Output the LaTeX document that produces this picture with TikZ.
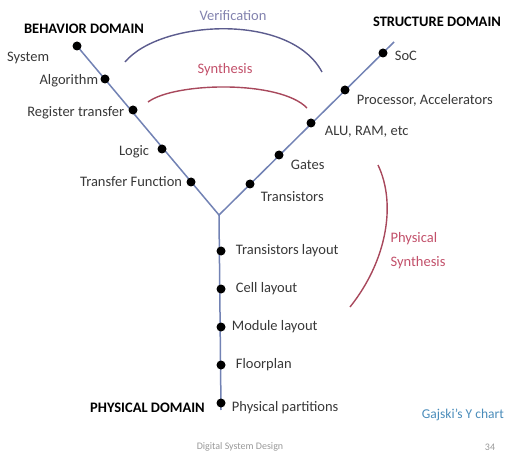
\documentclass[tikz,border=0pt]{standalone}
\usepackage{fontspec}
\setmainfont{Carlito}
\usetikzlibrary{positioning}

\definecolor{armblue}{HTML}{7282B4}
\definecolor{verifcol}{HTML}{5C5C8E}
\definecolor{veriftxt}{HTML}{8282AE}
\definecolor{synthcol}{HTML}{A8485C}
\definecolor{synthtxt}{HTML}{C2506A}
\definecolor{charttxt}{HTML}{4A8CBA}

\begin{document}
\begin{tikzpicture}[x=1pt, y=-1pt,
  every node/.style={font=\fontsize{14.5}{24}\selectfont, text=black!78},
  dot/.style={circle, fill=black, inner sep=0pt, minimum size=9pt},
  domainlbl/.style={font=\fontsize{14.5}{17}\selectfont\bfseries, text=black},
  lbl/.style={inner sep=1pt},
  arm/.style={draw=armblue, line width=1.5pt},
  verarr/.style={draw=verifcol, line width=1.4pt},
  synarr/.style={draw=synthcol, line width=1.4pt},
  footer/.style={font=\fontsize{10}{12}\selectfont, text=black!40},
]
\useasboundingbox (0,0) rectangle (506,457);

% the three axes of the Y
\coordinate (J) at (219,215);
\coordinate (Btop) at (77,46);
\coordinate (Stop) at (394,42);
\coordinate (Pbot) at (221,410);
\draw[arm] (Btop) -- (J) -- (Stop);
\draw[arm] (J) -- (Pbot);

% behavior domain
\node[dot] (sys) at (77,46) {};
\node[dot] (alg) at (105,79) {};
\node[dot] (rtl) at (133,110) {};
\node[dot] (logic) at (162,149) {};
\node[dot] (tf) at (191,182) {};

\node[domainlbl] (behav) at (84,29) {BEHAVIOR DOMAIN};
\node[lbl, left=22pt of sys, yshift=-12pt] (systxt) {System};
\node[lbl, left=1pt of alg, yshift=-2pt] (algtxt) {Algorithm};
\node[lbl, left=3pt of rtl, yshift=-3pt] (rtltxt) {Register transfer};
\node[lbl, left=7pt of logic, yshift=-3pt] (logictxt) {Logic};
\node[lbl, left=3pt of tf] (tftxt) {Transfer Function};

% structure domain
\node[dot] (tr) at (250,184) {};
\node[dot] (gates) at (279,155) {};
\node[dot] (alu) at (311,123) {};
\node[dot] (proc) at (345,90) {};
\node[dot] (soc) at (383,53) {};

\node[domainlbl] (struct) at (437,22) {STRUCTURE DOMAIN};
\node[lbl, right=6pt of soc, yshift=-3pt] (soctxt) {SoC};
\node[lbl, right=6pt of proc, yshift=-10pt] (proctxt) {Processor, Accelerators};
\node[lbl, right=8pt of alu, yshift=-9pt] (alutxt) {ALU, RAM, etc};
\node[lbl, right=6pt of gates, yshift=-10pt] (gatestxt) {Gates};
\node[lbl, right=5pt of tr, yshift=-13pt] (trtxt) {Transistors};

% physical domain
\node[dot] (tl) at (221,251) {};
\node[dot] (cell) at (221,289) {};
\node[dot] (mod) at (221,327) {};
\node[dot] (floor) at (221,365) {};
\node[dot] (pp) at (221,403) {};

\node[lbl, right=9pt of tl] (tltxt) {Transistors layout};
\node[lbl, right=9pt of cell] (celltxt) {Cell layout};
\node[lbl, right=5pt of mod] (modtxt) {Module layout};
\node[lbl, right=9pt of floor] (floortxt) {Floorplan};
\node[lbl, right=5pt of pp, yshift=-5pt] (pptxt) {Physical partitions};
\node[domainlbl, left=8pt of pp, yshift=-5pt] (phys) {PHYSICAL DOMAIN};

% transformations between the domains
\coordinate (verL) at (125,62);
\coordinate (verR) at (322,72);
\draw[verarr] (verL) .. controls (160,20) and (290,12) .. (verR);
\node[text=veriftxt] (vertxt) at (233,16) {Verification};

\coordinate (synL) at (148,102);
\coordinate (synR) at (307,108);
\draw[synarr] (synL) .. controls (175,82) and (280,80) .. (synR);
\node[text=synthtxt] (syntxt) at (225,70) {Synthesis};

\coordinate (physT) at (378,165);
\coordinate (physB) at (350,307);
\draw[synarr] (physT) .. controls (397,205) and (386,262) .. (physB);
\node[text=synthtxt, align=left, anchor=west] (physsyn) at (387,251) {Physical\\Synthesis};

\node[text=charttxt, anchor=east, font=\fontsize{13.5}{16}\selectfont, inner sep=1pt] (chart) at (505,415) {Gajski's Y chart};
\node[footer] (foot) at (240,447) {Digital System Design};
\node[footer] (page) at (490,447) {34};

\end{tikzpicture}
\end{document}
